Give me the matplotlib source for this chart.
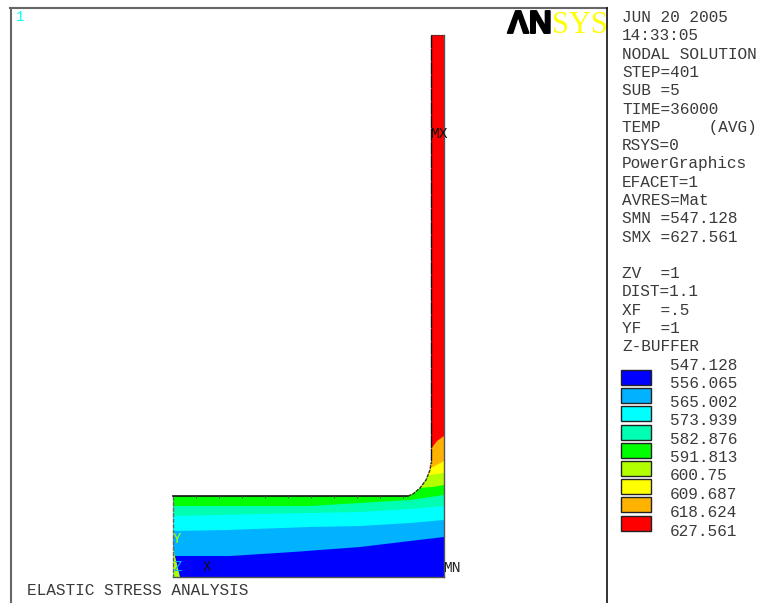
import matplotlib
matplotlib.use("Agg")
import matplotlib.pyplot as plt
import matplotlib.patheffects as pe
from matplotlib.patches import Polygon, Rectangle

W, H = 757, 603

# Text block on the right.
infoLines = ["JUN 20 2005", "14:33:05", "NODAL SOLUTION", "STEP=401", "SUB =5",
             "TIME=36000", "TEMP     (AVG)", "RSYS=0", "PowerGraphics", "EFACET=1",
             "AVRES=Mat", "SMN =547.128", "SMX =627.561", "", "ZV  =1", "DIST=1.1",
             "XF  =.5", "YF  =1", "Z-BUFFER"]

# Contour legend.
levelLabels = ["547.128", "556.065", "565.002", "573.939", "582.876",
               "591.813", "600.75", "609.687", "618.624", "627.561"]
bandColors = ["#0000FF", "#00B2FF", "#00FFFF", "#00FFB2", "#00FF00",
              "#B2FF00", "#FFFF00", "#FFB200", "#FF0000"]

# Part outline, in picture pixels.
outlineX = [431, 444, 444, 173, 173, 408, 413, 420, 426, 430, 431]
outlineY = [35, 35, 577, 577, 496, 496, 494, 488, 480, 470, 463]

# Band boundaries, lowest temperature first (boundary above each band).
blueTopX = [176, 230, 293, 360, 410, 444]
blueTopY = [556, 556, 552, 547, 541, 537]
skyTopX = [173, 227, 310, 360, 410, 444]
skyTopY = [531, 530, 527, 526, 523, 520]
cyanTopX = [173, 310, 360, 410, 444]
cyanTopY = [516, 513, 512, 509, 506]
mintTopX = [173, 310, 360, 410, 444]
mintTopY = [506, 506, 503, 500, 495]
greenTopX = [173, 405, 420, 432, 444]
greenTopY = [496, 496, 488, 487, 485]
limeTopX = [173, 430, 444]
limeTopY = [475, 475, 473]
yellowTopX = [173, 431, 444]
yellowTopY = [468, 468, 461]
orangeTopX = [173, 431, 437, 444]
orangeTopY = [449, 449, 441, 436]

# Small wedge in the lower left corner.
wedgeX = [173, 180, 173]
wedgeY = [548, 577, 577]
cornerX = [173, 175, 173]
cornerY = [572, 577, 577]

boundaries = [(orangeTopX, orangeTopY), (yellowTopX, yellowTopY), (limeTopX, limeTopY),
              (greenTopX, greenTopY), (mintTopX, mintTopY), (cyanTopX, cyanTopY),
              (skyTopX, skyTopY), (blueTopX, blueTopY)]

MONO = "Liberation Mono"
TEXT_COLOR = "#3a3a3a"

fig = plt.figure(figsize=(W / 100, H / 100), dpi=100)
ax = fig.add_axes([0, 0, 1, 1])
ax.set_xlim(0, W)
ax.set_ylim(H, 0)
ax.axis("off")

# Window frame.
ax.plot([10, 607], [8, 8], color="#666666", lw=1.5)
ax.plot([10.5, 10.5], [8, 603], color="#666666", lw=1.5)
ax.plot([607, 607], [8, 603], color="#111111", lw=1.2)

# Bands, painted from the hottest down, clipped to the part.
outline = Polygon(list(zip(outlineX, outlineY)), closed=True, facecolor="none", edgecolor="none")
ax.add_patch(outline)

base = Polygon(list(zip(outlineX, outlineY)), closed=True, facecolor=bandColors[8], edgecolor="none")
ax.add_patch(base)

for i, (bx, by) in enumerate(boundaries):
    pts = list(zip(bx, by))
    pts = [(165, by[0])] + pts + [(450, by[-1]), (450, 585), (165, 585)]
    band = Polygon(pts, closed=True, facecolor=bandColors[7 - i], edgecolor="none")
    ax.add_patch(band)
    band.set_clip_path(outline)

wedge = Polygon(list(zip(wedgeX, wedgeY)), closed=True, facecolor=bandColors[5], edgecolor="none")
ax.add_patch(wedge)
corner = Polygon(list(zip(cornerX, cornerY)), closed=True, facecolor=bandColors[2], edgecolor="none")
ax.add_patch(corner)

# Part edges.
ax.plot([444, 444], [35, 577], color="#555555", lw=1.0)
ax.plot([173, 444], [577, 577], color="#555555", lw=1.0)
ax.plot([173, 173], [496, 577], color="#666666", lw=1.0, ls=(0, (3, 1)))
ax.plot([173, 408], [496, 496], color="#111111", lw=1.2)
ax.plot([431, 431], [35, 463], color="#111111", lw=1.0, ls=(0, (9, 0.6)))
ax.plot([431, 444], [35, 35], color="#333333", lw=0.9, ls=(0, (1.5, 1)))
ax.plot(outlineX[5:], outlineY[5:], color="#333333", lw=1.0, ls=(0, (2.5, 0.8)))
ax.vlines(range(196, 408, 23), 495, 498, color="#444444", lw=0.7)

# Legend swatches.
for i, col in enumerate(bandColors):
    y = 370 + i * 18.2
    ax.add_patch(Rectangle((621, y), 30, 15, facecolor=col, edgecolor="#222222", lw=1.0))

# Text.
for i, line in enumerate(infoLines):
    ax.text(622, 17.5 + i * 18.3, line, family=MONO, fontsize=11.6, color=TEXT_COLOR,
            va="center", ha="left")
for i, lab in enumerate(levelLabels):
    ax.text(670, 365.5 + i * 18.4, lab, family=MONO, fontsize=11.6, color=TEXT_COLOR,
            va="center", ha="left")
ax.text(27, 590.5, "ELASTIC STRESS ANALYSIS", family=MONO, fontsize=11.6, color=TEXT_COLOR,
        va="center", ha="left")

ax.text(16, 17, "1", family=MONO, fontsize=10, color="#00FFFF", va="center", ha="left")
ax.text(439, 134, "MX", family=MONO, fontsize=10.5, color="#111111", va="center", ha="center")
ax.text(452, 568, "MN", family=MONO, fontsize=10.5, color="#222222", va="center", ha="center")
ax.text(207, 567, "X", family=MONO, fontsize=10, color="#111111", va="center", ha="center")
ax.text(177, 539, "Y", family=MONO, fontsize=10, color="#B2FF00", va="center", ha="center")
ax.text(178, 567, "Z", family=MONO, fontsize=10, color="#00B2FF", va="center", ha="center")

# Logo.
ax.text(552, 33, "ΛN", family="Liberation Sans", fontweight="bold", fontsize=23,
        color="black", va="baseline", ha="right",
        path_effects=[pe.withStroke(linewidth=1.4, foreground="black")])
ax.text(552, 33, "SYS", family="Liberation Serif", fontsize=22, color="#FFFF00",
        va="baseline", ha="left")

fig.savefig("out.png", dpi=100)
